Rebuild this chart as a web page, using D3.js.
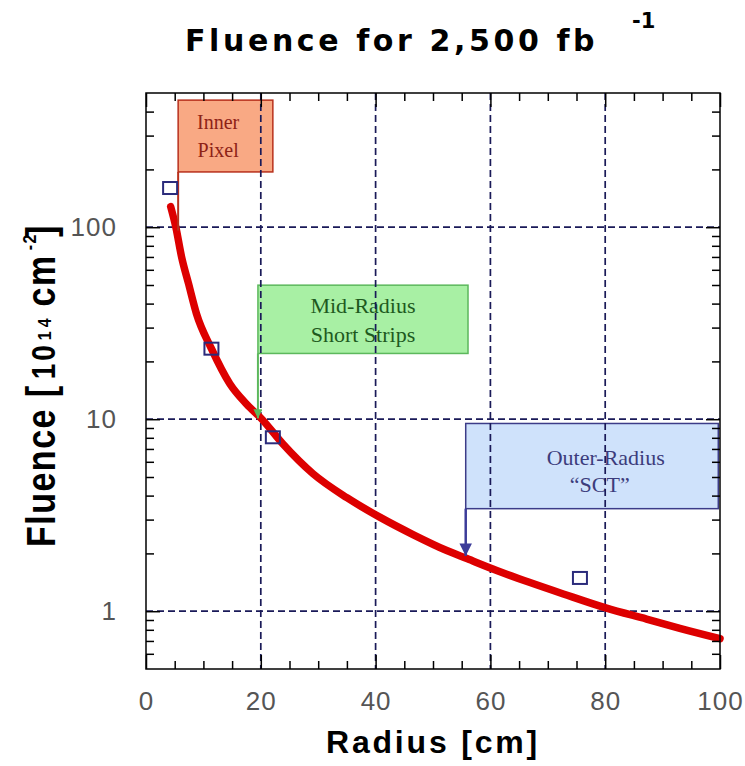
<!DOCTYPE html>
<html><head><meta charset="utf-8">
<script src="https://cdn.jsdelivr.net/npm/d3@7"></script>
<style>body{margin:0;background:#fff} svg{display:block}</style>
</head><body><svg id="c" width="745" height="766"></svg>
<script>
// ---- data ----
const radius  = [4.3, 5.2, 6.2, 7.4, 8.8, 11.4, 14.6, 17.5, 20.2, 23.9, 29.1, 35.0, 40.8, 46.6, 52.4, 55.9, 61.1, 66.9, 72.7, 80.1, 87.2, 93.0, 100];
const fluence = [128, 100, 70, 51, 35.4, 23.3, 15.3, 12.0, 10.0, 7.4, 5.2, 3.9, 3.08, 2.50, 2.07, 1.88, 1.63, 1.41, 1.23, 1.04, 0.91, 0.815, 0.72];
const markerRadius  = [4.2, 11.4, 22.1, 75.6];
const markerFluence = [160, 23.3, 8.05, 1.49];
const xMajorTicks = [0, 20, 40, 60, 80, 100];
const xMinorTicks = [5, 10, 15, 25, 30, 35, 45, 50, 55, 65, 70, 75, 85, 90, 95];
const yMajorTicks = [1, 10, 100];
const yMinorTicks = [0.6, 0.7, 0.8, 0.9, 2, 3, 4, 5, 6, 7, 8, 9, 20, 30, 40, 50, 60, 70, 80, 90, 200, 300, 400];
const annoLabels = [["Inner", "Pixel"], ["Mid-Radius", "Short Strips"], ["Outer-Radius", "\u201CSCT\u201D"]];
const annoX0   = [5.6, 19.5, 55.7];
const annoX1   = [22.1, 56.1, 99.7];
const annoYTop = [459, 49.9, 9.5];
const annoYBot = [194, 22, 3.42];
const annoTipY = [96, 10.1, 1.94];

// ---- layout ----
const W = 745, H = 766, m = {l: 146, r: 25, t: 93, b: 97};
const svg = d3.select("#c");
const x = d3.scaleLinear().domain([0, 100]).range([m.l, W - m.r]);
const y = d3.scaleLog().domain([0.5, 500]).range([H - m.b, m.t]);

const styles = [
  {fill: "#f9a984", stroke: "#b8301c", text: "#8e2216", size: 20, ptr: "#b8301c", arrow: false},
  {fill: "#a8f0a4", stroke: "#5cb85c", text: "#1e5a1e", size: 22, ptr: "#5cb85c", arrow: true},
  {fill: "#cfe2fb", stroke: "#3c3c88", text: "#3c3c7c", size: 22, ptr: "#3c3c99", arrow: true}
];

const defs = svg.append("defs");
styles.forEach((s, i) => {
  defs.append("marker").attr("id", "ah" + i)
    .attr("viewBox", "0 0 10 10").attr("refX", 10).attr("refY", 5)
    .attr("markerWidth", i === 2 ? 5 : 4.5).attr("markerHeight", i === 2 ? 5 : 4.5).attr("orient", "auto")
    .attr("markerUnits", "strokeWidth")
    .append("path").attr("d", "M0,0L10,5L0,10Z").attr("fill", s.ptr);
});

// annotation boxes (beneath grid)
const gBox = svg.append("g");
annoLabels.forEach((lines, i) => {
  const s = styles[i];
  const bx = x(annoX0[i]), bx1 = x(annoX1[i]), by = y(annoYTop[i]), by1 = y(annoYBot[i]);
  gBox.append("rect").attr("x", bx).attr("y", by).attr("width", bx1 - bx).attr("height", by1 - by)
    .attr("fill", s.fill).attr("stroke", s.stroke).attr("stroke-width", 1.5);
  const cx = i === 0 ? bx + 40 : (i === 1 ? (bx + bx1) / 2 : bx + 140);
  const t = gBox.append("text").attr("font-family", "'Liberation Serif','Times New Roman',serif")
    .attr("font-size", s.size).attr("fill", s.text).attr("text-anchor", "middle");
  const base = i === 0 ? by + 29 : (i === 1 ? by + 28 : by + 42);
  const step = i === 0 ? 28 : 29;
  lines.forEach((ln, k) => {
    t.append("tspan").attr("x", cx - (i === 2 && k === 1 ? 6 : 0)).attr("y", base + k * (i === 2 ? 27 : step)).text(ln);
  });
});

// grid
const gGrid = svg.append("g").attr("stroke", "#1a1a58").attr("stroke-width", 1.7).attr("stroke-dasharray", "7,4");
gGrid.selectAll("line.v").data(xMajorTicks.slice(1, -1)).join("line")
  .attr("x1", d => x(d)).attr("x2", d => x(d)).attr("y1", y(500)).attr("y2", y(0.5));
gGrid.selectAll("line.h").data(yMajorTicks).join("line")
  .attr("x1", x(0)).attr("x2", x(100)).attr("y1", d => y(d)).attr("y2", d => y(d));

// curve
const line = d3.line().x((d, i) => x(radius[i])).y((d, i) => y(fluence[i])).curve(d3.curveMonotoneX);
svg.append("path").attr("d", line(radius)).attr("fill", "none")
  .attr("stroke", "#dd0000").attr("stroke-width", 7.5).attr("stroke-linejoin", "round").attr("stroke-linecap", "round");

// pointers
annoLabels.forEach((lines, i) => {
  const s = styles[i];
  const px = x(annoX0[i]);
  svg.append("line").attr("x1", px).attr("x2", px).attr("y1", y(annoYBot[i])).attr("y2", y(annoTipY[i]))
    .attr("stroke", s.ptr).attr("stroke-width", i === 2 ? 2.5 : 2)
    .attr("marker-end", s.arrow ? "url(#ah" + i + ")" : null);
});

// markers
svg.selectAll("rect.mk").data(markerRadius).join("rect").attr("class", "mk")
  .attr("x", (d, i) => x(d) - 7).attr("y", (d, i) => y(markerFluence[i]) - 6)
  .attr("width", 14).attr("height", 12).attr("fill", "none")
  .attr("stroke", "#2b2b7b").attr("stroke-width", 2);

// axes ticks (inward, all four sides)
function tickAxis(axisFn, scale, vals, size, tr) {
  const g = svg.append("g").attr("transform", tr)
    .call(axisFn(scale).tickValues(vals).tickSize(-size).tickFormat(""));
  g.select(".domain").remove();
  g.selectAll("line").attr("stroke", "#000").attr("stroke-width", 1.5);
}
const bottomT = `translate(0,${y(0.5)})`, topT = `translate(0,${y(500)})`;
const leftT = `translate(${x(0)},0)`, rightT = `translate(${x(100)},0)`;
tickAxis(d3.axisBottom, x, xMajorTicks, 14, bottomT);
tickAxis(d3.axisBottom, x, xMinorTicks, 8, bottomT);
tickAxis(d3.axisTop, x, xMajorTicks, 14, topT);
tickAxis(d3.axisTop, x, xMinorTicks, 8, topT);
tickAxis(d3.axisLeft, y, yMajorTicks, 14, leftT);
tickAxis(d3.axisLeft, y, yMinorTicks, 8, leftT);
tickAxis(d3.axisRight, y, yMajorTicks, 14, rightT);
tickAxis(d3.axisRight, y, yMinorTicks, 8, rightT);

// frame
svg.append("rect").attr("x", x(0)).attr("y", y(500)).attr("width", x(100) - x(0)).attr("height", y(0.5) - y(500))
  .attr("fill", "none").attr("stroke", "#000").attr("stroke-width", 1.5);

// tick labels
function labelAxis(g) {
  g.select(".domain").remove();
  g.selectAll("line").remove();
  g.selectAll("text").attr("font-family", "'Liberation Sans',Arial,sans-serif").attr("font-size", 26)
    .attr("letter-spacing", 1).attr("fill", "#555");
}
svg.append("g").attr("transform", bottomT)
  .call(d3.axisBottom(x).tickValues(xMajorTicks).tickSize(0).tickPadding(23).tickFormat(d3.format("d"))).call(labelAxis);
svg.append("g").attr("transform", leftT)
  .call(d3.axisLeft(y).tickValues(yMajorTicks).tickSize(0).tickPadding(29).tickFormat(d3.format("d"))).call(labelAxis);

// titles
const bold = "'Liberation Sans',Arial,Helvetica,sans-serif";
const heavy = "'DejaVu Sans','Liberation Sans',sans-serif";
svg.append("text").attr("x", 185).attr("y", 51).attr("font-family", heavy).attr("font-weight", "bold")
  .attr("font-size", 30).attr("letter-spacing", 3.6).attr("fill", "#000").text("Fluence for 2,500 fb");
svg.append("text").attr("x", 632).attr("y", 28).attr("font-family", heavy).attr("font-weight", "bold")
  .attr("font-size", 21).attr("fill", "#000").text("-1");

svg.append("text").attr("x", x(50)).attr("y", 753).attr("text-anchor", "middle").attr("font-family", bold)
  .attr("font-weight", "bold").attr("font-size", 32).attr("letter-spacing", 2.8).attr("fill", "#000").text("Radius [cm]");

const yl = svg.append("text").attr("transform", "translate(55,547) rotate(-90) scale(1,1.18)")
  .attr("font-family", bold).attr("font-weight", "bold").attr("font-size", 34).attr("letter-spacing", 1.5).attr("fill", "#000");
yl.append("tspan").text("Fluence [");
yl.append("tspan").attr("dx", 5).attr("font-size", 28).attr("letter-spacing", 3).text("10");
yl.append("tspan").attr("dx", 2).attr("dy", -3).attr("font-size", 16).attr("letter-spacing", 4).text("14");
yl.append("tspan").attr("dx", 8).attr("dy", 3).text("cm");
yl.append("tspan").attr("dx", 4).attr("dy", -16).attr("font-size", 16).text("-2");
yl.append("tspan").attr("dx", -4).attr("dy", 16).text("]");
</script></body></html>
